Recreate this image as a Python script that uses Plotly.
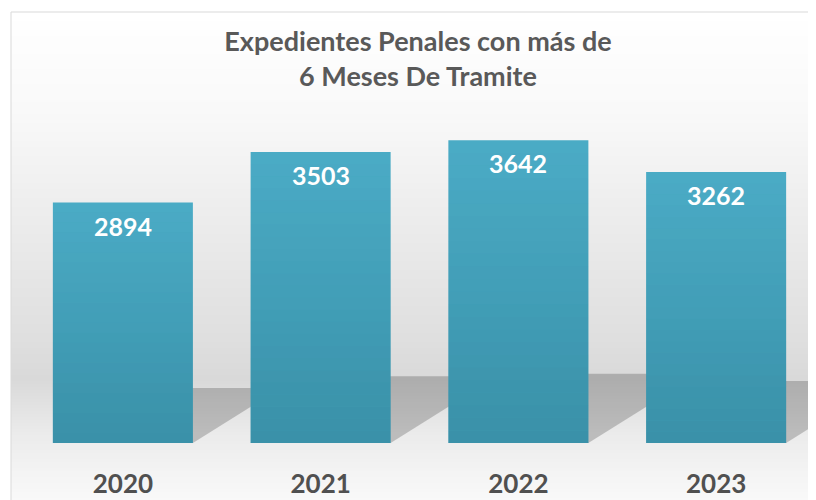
import plotly.graph_objects as go

years = ["2020", "2021", "2022", "2023"]
expedientes = [2894, 3503, 3642, 3262]

title_text = "Expedientes Penales con más de<br>6 Meses De Tramite"

W, H = 816, 500
OFF = 8  # the page puts the figure 8px in from the top-left corner
FONT = "Lato, 'Open Sans', sans-serif"


def px_x(p):
    return (p - OFF) / W


def px_y(p):
    return 1 - (p - OFF) / H


def hex_mix(c1, c2, t):
    a = [int(c1[i:i + 2], 16) for i in (1, 3, 5)]
    b = [int(c2[i:i + 2], 16) for i in (1, 3, 5)]
    return "#" + "".join(f"{round(x + (y - x) * t):02x}" for x, y in zip(a, b))


# background "wall" and "floor" gradient, as stops (screen pixel row, colour)
bg_stops = [(12, "#ffffff"), (110, "#f9f9f9"), (220, "#ececec"), (330, "#e0e0e0"),
            (380, "#d9d9d9"), (430, "#eaeaea"), (460, "#f1f1f1"), (510, "#fbfbfb")]


def bg_color(p):
    for (p0, c0), (p1, c1) in zip(bg_stops, bg_stops[1:]):
        if p0 <= p <= p1:
            return hex_mix(c0, c1, (p - p0) / max(p1 - p0, 1))
    return bg_stops[-1][1]


shapes = []
step = 3
for p in range(12, H + OFF, step):
    shapes.append(dict(type="rect", xref="paper", yref="paper", layer="below",
                       x0=px_x(11), x1=1, y0=px_y(p + step), y1=px_y(p),
                       fillcolor=bg_color(p + step / 2), line=dict(width=0)))
# frame
shapes.append(dict(type="rect", xref="paper", yref="paper", layer="below",
                   x0=px_x(11), x1=1.01, y0=-0.01, y1=px_y(12),
                   fillcolor="rgba(0,0,0,0)", line=dict(color="#d9d9d9", width=1)))

# perspective shadows behind each bar
bar_w = 0.708
for i, v in enumerate(expedientes):
    h = v * 0.229
    s = 0.445 * v / expedientes[0]
    path = (f"M {i - bar_w / 2},0 L {i + bar_w / 2},0 "
            f"L {i + bar_w / 2 + s},{h} L {i - bar_w / 2 + s},{h} Z")
    shapes.append(dict(type="path", xref="x", yref="y", layer="below", path=path,
                       fillcolor="rgba(0,0,0,0.20)", line=dict(width=0)))

# vertical shading on each bar (lighter at the top, darker at the base)
n_strips = 24
for i, v in enumerate(expedientes):
    for k in range(n_strips):
        y0 = v * k / n_strips
        y1 = v * (k + 1) / n_strips
        a = 0.38 * (1 - (k + 0.5) / n_strips)
        shapes.append(dict(type="rect", xref="x", yref="y", layer="above",
                           x0=i - bar_w / 2, x1=i + bar_w / 2, y0=y0, y1=y1,
                           fillcolor=f"rgba(30,100,120,{a:.3f})", line=dict(width=0)))

fig = go.Figure()
fig.add_trace(
    go.Bar(
        x=years,
        y=expedientes,
        marker=dict(color="#4bacc6", line=dict(width=0)),
        hoverinfo="skip",
    )
)

annotations = [
    dict(x=i, y=v, text=f"<b>{v}</b>", showarrow=False, yanchor="top", yshift=-6,
         font=dict(family=FONT, size=25, color="#ffffff"))
    for i, v in enumerate(expedientes)
]

y_max = 4000
fig.update_layout(
    width=W,
    height=H,
    autosize=False,
    margin=dict(l=0, r=0, t=0, b=0, pad=0, autoexpand=False),
    paper_bgcolor="white",
    plot_bgcolor="rgba(0,0,0,0)",
    showlegend=False,
    bargap=1 - bar_w,
    title=dict(text=title_text, x=px_x(418), xanchor="center", y=px_y(51), yref="container",
               yanchor="top", font=dict(family=FONT, size=27, color="#595959", weight="bold")),
    xaxis=dict(type="category", domain=[px_x(24), px_x(815)], range=[-0.5, 3.5],
               showgrid=False, showline=False, zeroline=False, automargin=False,
               ticks="", ticklabelstandoff=23,
               tickfont=dict(family=FONT, size=26, color="#505050", weight="bold")),
    yaxis=dict(domain=[px_y(443), px_y(443) + y_max * 0.0831 / H], range=[0, y_max],
               visible=False, showgrid=False, zeroline=False, automargin=False),
    shapes=shapes,
    annotations=annotations,
)

fig.write_html("out.html")
